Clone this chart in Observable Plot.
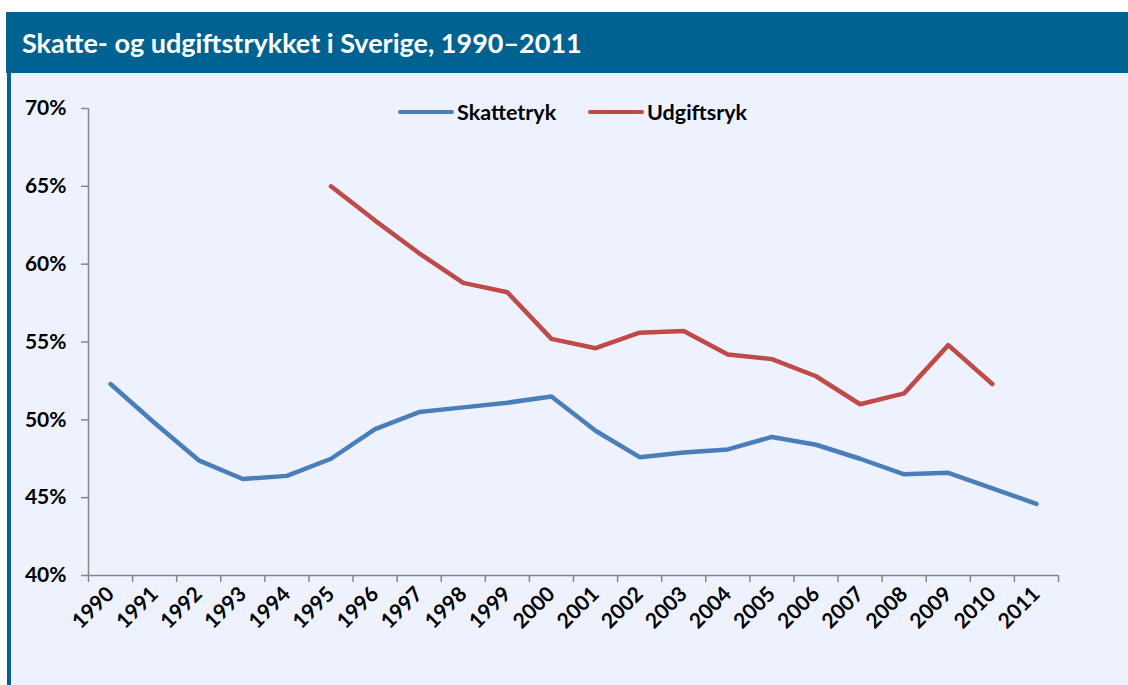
<!DOCTYPE html>
<html>
<head>
<meta charset="utf-8">
<script src="https://cdn.jsdelivr.net/npm/d3@7"></script>
<script src="https://cdn.jsdelivr.net/npm/@observablehq/plot@0.6"></script>
<style>
  html, body { margin: 0; padding: 0; background: #ffffff; }
  body { width: 1128px; height: 685px; position: relative; overflow: hidden; font-family: Lato, "Open Sans", sans-serif; }
  #bar { position: absolute; left: 6px; top: 12px; width: 1122px; height: 61px; background: #006290; }
  #title { position: absolute; left: 22px; top: 12px; height: 61px; line-height: 61px; color: #ffffff; font-weight: bold; font-size: 27px; white-space: nowrap; }
  #stripe { position: absolute; left: 7px; top: 73px; width: 4px; height: 612px; background: #006290; }
  #panel { position: absolute; left: 11px; top: 73px; width: 1117px; height: 612px; background: #eef2fe; }
  #chart svg { display: block; }
  .leg { position: absolute; top: 39px; display: flex; align-items: center; font-weight: bold; font-size: 21.5px; color: #000; white-space: nowrap; }
  .leg .sw { width: 56px; height: 4.5px; border-radius: 3px; margin-right: 3px; }
</style>
</head>
<body>
<div id="bar"></div>
<div id="title">Skatte- og udgiftstrykket i Sverige, 1990–2011</div>
<div id="stripe"></div>
<div id="panel">
  <div id="chart"></div>
  <div class="leg" style="left:387px; transform:translateY(-50%);"><div class="sw" style="background:#4a7ebb"></div><span>Skattetryk</span></div>
  <div class="leg" style="left:577px; transform:translateY(-50%);"><div class="sw" style="background:#be4b48"></div><span>Udgiftsryk</span></div>
</div>
<script>
// Categories (years)
const years = [1990, 1991, 1992, 1993, 1994, 1995, 1996, 1997, 1998, 1999, 2000,
               2001, 2002, 2003, 2004, 2005, 2006, 2007, 2008, 2009, 2010, 2011];
// Skattetryk (tax burden, % of GDP), 1990–2011
const skattetryk = [52.3, 49.8, 47.4, 46.2, 46.4, 47.5, 49.4, 50.5, 50.8, 51.1, 51.5,
                    49.3, 47.6, 47.9, 48.1, 48.9, 48.4, 47.5, 46.5, 46.6, 45.6, 44.6];
// Udgiftsryk (expenditure burden, % of GDP), 1995–2010
const udgiftYears = [1995, 1996, 1997, 1998, 1999, 2000, 2001, 2002,
                     2003, 2004, 2005, 2006, 2007, 2008, 2009, 2010];
const udgiftsryk = [65.0, 62.8, 60.7, 58.8, 58.2, 55.2, 54.6, 55.6,
                    55.7, 54.2, 53.9, 52.8, 51.0, 51.7, 54.8, 52.3];
// Y tick labels
const yTicks = [40, 45, 50, 55, 60, 65, 70];

const skatteData = years.map((year, i) => ({year, value: skattetryk[i]}));
const udgiftData = udgiftYears.map((year, i) => ({year, value: udgiftsryk[i]}));
const firstYear = years[0], lastYear = years[years.length - 1];
const bandEdges = years.map(y => y - 0.5).concat([lastYear + 0.5]);
const axisColor = "#868686";

const chart = Plot.plot({
  width: 1117,
  height: 612,
  marginLeft: 77,
  marginRight: 70,
  marginTop: 35,
  marginBottom: 110,
  style: { background: "transparent", fontFamily: "Lato, 'Open Sans', sans-serif", fontWeight: "bold", color: "#000" },
  x: { type: "linear", domain: [firstYear - 0.5, lastYear + 0.5] },
  y: { domain: [yTicks[0], yTicks[yTicks.length - 1]] },
  marks: [
    Plot.axisY({ ticks: yTicks, tickFormat: d => d + "%", tickSize: 7, tickPadding: 15, stroke: axisColor, strokeWidth: 1.5, fill: "#000", fontSize: 21, label: null }),
    Plot.axisX({ ticks: bandEdges, tickFormat: () => "", tickSize: 7, stroke: axisColor, strokeWidth: 1.5, label: null }),
    Plot.axisX({ ticks: years, tickFormat: d => String(d), tickSize: 0, tickPadding: 15, tickRotate: -45, fill: "#000", fontSize: 21, label: null }),
    Plot.ruleY([yTicks[0]], { stroke: axisColor, strokeWidth: 1.5 }),
    Plot.ruleX([firstYear - 0.5], { stroke: axisColor, strokeWidth: 1.5 }),
    Plot.line(skatteData, { x: "year", y: "value", stroke: "#4a7ebb", strokeWidth: 4.5, strokeLinejoin: "round", strokeLinecap: "round" }),
    Plot.line(udgiftData, { x: "year", y: "value", stroke: "#be4b48", strokeWidth: 4.5, strokeLinejoin: "round", strokeLinecap: "round" })
  ]
});
document.getElementById("chart").appendChild(chart);
</script>
</body>
</html>
